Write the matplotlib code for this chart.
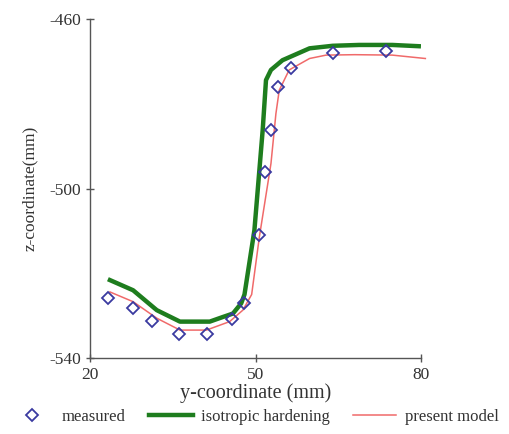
import matplotlib
matplotlib.use("Agg")
import matplotlib.pyplot as plt

# measured points
meas_y = [23.3, 27.8, 31.3, 36.1, 41.2, 45.8, 48.0, 50.6, 51.7, 52.8, 54.0, 56.5, 64.0, 73.6]
meas_z = [-525.9, -528.3, -531.3, -534.4, -534.4, -530.9, -527.0, -511.0, -496.2, -486.2,
          -476.1, -471.5, -468.0, -467.6]

# isotropic hardening
iso_y = [23.6, 27.8, 32.1, 36.3, 41.7, 44.1, 45.9, 47.4, 48.0, 49.8, 51.3, 51.9,
         52.8, 54.9, 59.8, 64.0, 68.8, 74.8, 79.6]
iso_z = [-521.6, -524.0, -528.7, -531.4, -531.4, -530.3, -529.5, -527.1, -525.0, -509.8,
         -486.2, -474.4, -472.0, -469.7, -466.9, -466.3, -466.1, -466.1, -466.4]

# present model
pm_y = [23.6, 27.8, 32.1, 36.3, 41.1, 45.3, 47.7, 49.3, 50.7, 52.8, 53.7, 54.3,
        56.1, 59.8, 62.8, 68.0, 74.8, 80.8]
pm_z = [-524.4, -526.7, -530.6, -533.4, -533.4, -531.4, -528.7, -525.0, -511.4, -494.1,
        -482.3, -476.8, -472.0, -469.3, -468.5, -468.4, -468.5, -469.3]

plt.rcParams['font.family'] = ['Liberation Serif', 'DejaVu Serif']
plt.rcParams['axes.unicode_minus'] = False

fig = plt.figure(figsize=(5.09, 4.34), dpi=100)
ax = fig.add_axes([0.177, 0.175, 0.650, 0.781])

ax.plot(iso_y, iso_z, color='#1e7d1e', lw=3.2, label='isotropic hardening', zorder=2,
        solid_joinstyle='round')
ax.plot(pm_y, pm_z, color='#f06a6a', lw=1.1, label='present model', zorder=3, clip_on=False)
ax.plot(meas_y, meas_z, ls='none', marker='D', ms=6.5, mfc='none', mec='#3a3aa0',
        mew=1.3, label='measured', zorder=4)

ax.set_xlim(20, 80)
ax.set_ylim(-540, -460)
ax.set_xticks([20, 50, 80])
ax.set_yticks([-540, -500, -460])
ax.spines['top'].set_visible(False)
ax.spines['right'].set_visible(False)
for s in ('left', 'bottom'):
    ax.spines[s].set_color('#555555')
    ax.spines[s].set_linewidth(1.0)
ax.tick_params(direction='inout', length=6, width=1, colors='#555555',
               labelcolor='#333333', labelsize=12.5)

ax.set_xlabel('y-coordinate (mm)', fontsize=14.5, color='#333333', labelpad=0)
ax.set_ylabel('z-coordinate(mm)', fontsize=12.5, color='#333333', labelpad=8)

h, l = ax.get_legend_handles_labels()
order = [2, 0, 1]
fig.legend([h[i] for i in order], [l[i] for i in order], loc='center',
           bbox_to_anchor=(0.5, 0.04), ncol=3, frameon=False, fontsize=12,
           handlelength=2.6, columnspacing=1.4, handletextpad=0.5,
           labelcolor='#333333', borderaxespad=0, borderpad=0)

fig.savefig('out.png', dpi=100)
